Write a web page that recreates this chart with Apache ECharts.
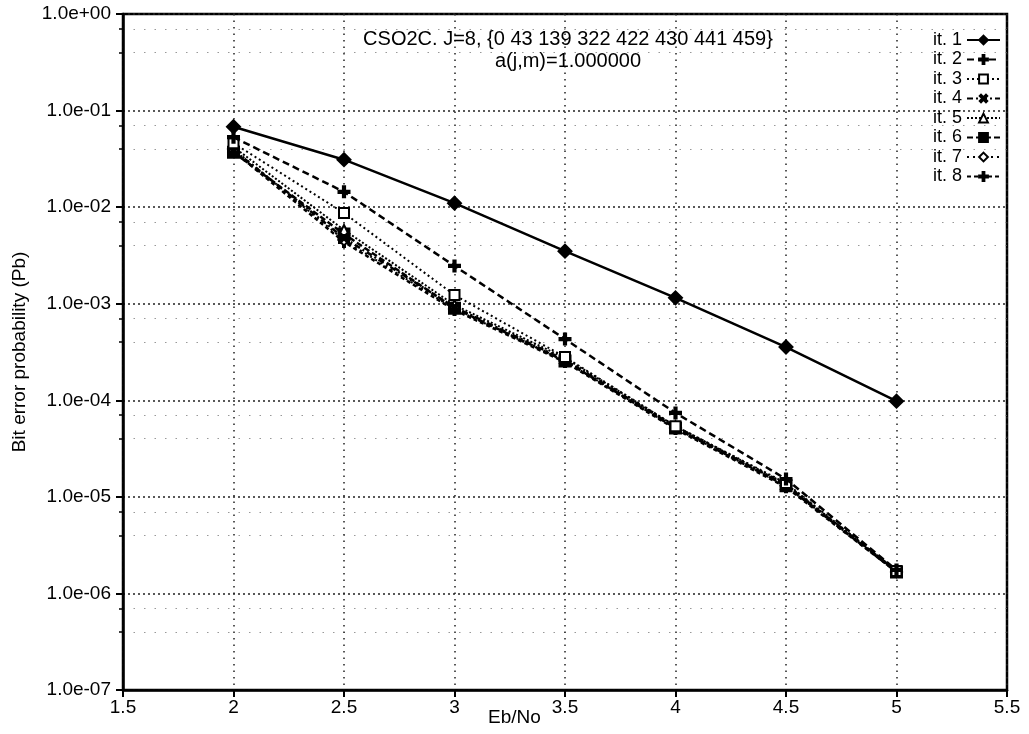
<!DOCTYPE html>
<html>
<head>
<meta charset="utf-8">
<script src="https://cdn.jsdelivr.net/npm/echarts@6/dist/echarts.min.js"></script>
<style>
html,body{margin:0;padding:0;background:#fff;}
#chart{width:1029px;height:734px;}
</style>
</head>
<body>
<div id="chart"></div>
<script>
// ---- data ----
var ebNo = [2, 2.5, 3, 3.5, 4, 4.5, 5];
var seriesNames = ['it. 1', 'it. 2', 'it. 3', 'it. 4', 'it. 5', 'it. 6', 'it. 7', 'it. 8'];
var it1 = [6.8e-2, 3.1e-2, 1.1e-2, 3.5e-3, 1.15e-3, 3.56e-4, 9.8e-5];
var it2 = [5.3e-2, 1.44e-2, 2.46e-3, 4.3e-4, 7.4e-5, 1.53e-5, 1.75e-6];
var it3 = [4.6e-2, 8.7e-3, 1.23e-3, 2.8e-4, 5.4e-5, 1.39e-5, 1.71e-6];
var it4 = [3.9e-2, 4.8e-3, 9.2e-4, 2.61e-4, 5.3e-5, 1.33e-5, 1.71e-6];
var it5 = [4.2e-2, 5.8e-3, 9.7e-4, 2.74e-4, 5.4e-5, 1.36e-5, 1.71e-6];
var it6 = [3.7e-2, 5.27e-3, 9.0e-4, 2.55e-4, 5.16e-5, 1.3e-5, 1.67e-6];
var it7 = [4.0e-2, 4.57e-3, 8.8e-4, 2.55e-4, 5.16e-5, 1.3e-5, 1.67e-6];
var it8 = [3.8e-2, 4.36e-3, 8.6e-4, 2.49e-4, 5.04e-5, 1.26e-5, 1.67e-6];
var xTickLabels = ['1.5', '2', '2.5', '3', '3.5', '4', '4.5', '5', '5.5'];
var yTickLabels = ['1.0e+00', '1.0e-01', '1.0e-02', '1.0e-03', '1.0e-04', '1.0e-05', '1.0e-06', '1.0e-07'];
var titleText = 'CSO2C. J=8, {0 43 139 322 422 430 441 459}\na(j,m)=1.000000';
var xName = 'Eb/No';
var yName = 'Bit error probability (Pb)';

// ---- styles ----
var FONT = '"Liberation Sans", Arial, sans-serif';
var plusPath = 'path://M4,0h2v4h4v2h-4v4h-2v-4h-4v-2h4z';
var styles = [
  {symbol: 'diamond', size: 13, fill: '#000', type: 'solid', width: 2.5},
  {symbol: plusPath, size: 11, fill: '#000', type: [7, 4], width: 2.5},
  {symbol: 'rect', size: 10, fill: '#fff', type: [2, 3], width: 2},
  {symbol: plusPath, size: 10, fill: '#000', type: [6, 3, 2, 3], width: 2.5, rotate: 45},
  {symbol: 'triangle', size: 10, fill: '#fff', type: [2, 2], width: 2},
  {symbol: 'rect', size: 11, fill: '#000', type: [6, 3], width: 2.5},
  {symbol: 'diamond', size: 11, fill: '#fff', type: [2, 4], width: 2},
  {symbol: plusPath, size: 10, fill: '#000', type: [4, 3], width: 2.5}
];
var allData = [it1, it2, it3, it4, it5, it6, it7, it8];

var series = allData.map(function (arr, i) {
  var s = styles[i];
  return {
    name: seriesNames[i],
    type: 'line',
    data: arr.map(function (v, j) { return [ebNo[j], v]; }),
    symbol: s.symbol,
    symbolSize: s.size,
    symbolRotate: s.rotate || 0,
    showAllSymbol: true,
    lineStyle: {color: '#000', width: s.width, type: s.type},
    itemStyle: {color: s.fill, borderColor: '#000', borderWidth: 2},
    emphasis: {disabled: true},
    z: 10 - i
  };
});

var chart = echarts.init(document.getElementById('chart'), null, {renderer: 'canvas'});
chart.setOption({
  animation: false,
  backgroundColor: '#fff',
  textStyle: {fontFamily: FONT, color: '#000'},
  title: {
    text: titleText,
    left: 563,
    top: 23,
    textAlign: 'center',
    textStyle: {fontFamily: FONT, fontSize: 20, fontWeight: 'normal', color: '#000', lineHeight: 22, align: 'center'}
  },
  legend: {
    orient: 'vertical',
    right: 23,
    top: 26,
    align: 'right',
    itemWidth: 33,
    itemHeight: 11,
    itemGap: 1.5,
    textStyle: {fontFamily: FONT, fontSize: 18, color: '#000', lineHeight: 18, padding: [0, 0, 0, 0]},
    data: seriesNames
  },
  grid: {
    left: 123, right: 22, top: 14, bottom: 44,
    show: true, borderColor: '#000', borderWidth: 2.5, backgroundColor: '#fff'
  },
  xAxis: {
    type: 'value',
    min: 1.5, max: 5.5, interval: 0.5,
    axisLine: {show: true, onZero: false, lineStyle: {color: '#000', width: 2.5}},
    axisTick: {show: true, inside: false, length: 7, lineStyle: {color: '#000', width: 2}},
    axisLabel: {
      fontFamily: FONT, fontSize: 19, color: '#000', margin: 8,
      formatter: function (v) { return xTickLabels[Math.round((v - 1.5) / 0.5)]; }
    },
    splitLine: {show: true, lineStyle: {color: '#222', type: [1.5, 5], width: 1.5}},
    minorTick: {show: false},
    minorSplitLine: {show: false}
  },
  yAxis: {
    type: 'log',
    logBase: 10,
    min: 1e-7, max: 1,
    splitNumber: 7,
    name: yName,
    nameLocation: 'middle',
    nameGap: 94,
    nameTextStyle: {fontFamily: FONT, fontSize: 19, color: '#000'},
    axisLine: {show: true, lineStyle: {color: '#000', width: 2.5}},
    axisTick: {show: true, inside: false, length: 7, lineStyle: {color: '#000', width: 2}},
    minorTick: {show: true, splitNumber: 3, length: 4, lineStyle: {color: '#000', width: 1.5}},
    axisLabel: {
      fontFamily: FONT, fontSize: 19, color: '#000', margin: 12,
      formatter: function (v) { return yTickLabels[Math.round(-Math.log10(v))]; }
    },
    splitLine: {show: true, lineStyle: {color: '#222', type: [2, 3], width: 1.5}},
    minorSplitLine: {show: true, lineStyle: {color: '#999', type: [1.5, 9], width: 1}}
  },
  graphic: [{
    type: 'text',
    left: 488, top: 708,
    style: {text: xName, fontFamily: FONT, fontSize: 19, fill: '#000'}
  }],
  series: series
});
</script>
</body>
</html>
